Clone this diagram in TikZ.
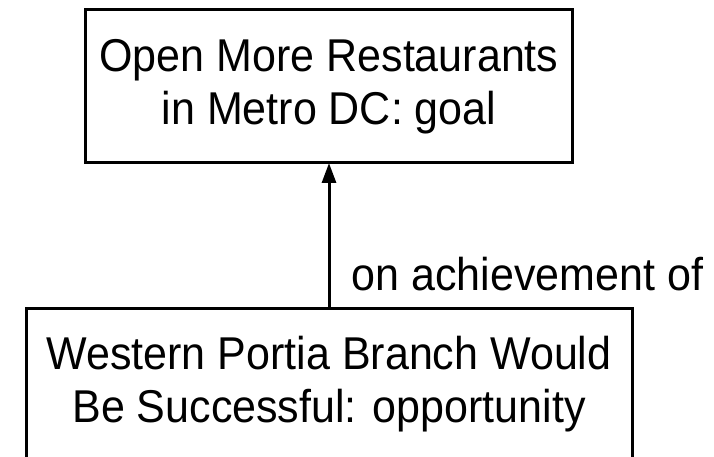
\documentclass[tikz,border=0pt]{standalone}
\usepackage{fontspec}
\setmainfont{Liberation Sans}[FakeStretch=0.935]
\usetikzlibrary{positioning,arrows.meta}
\tikzset{
  chart/.style={draw, line width=3pt, outer sep=0pt, inner sep=0pt, align=center,
                font=\fontsize{46}{53}\selectfont},
  link/.style={-{Triangle[length=20pt,width=14pt]}, line width=3pt},
}

\begin{document}
\begin{tikzpicture}[x=1pt,y=1pt]
  \useasboundingbox (0,0) rectangle (714,-457);
  \node[chart, minimum width=487pt, minimum height=153pt] (goal) at (329,-86.5) {Open More Restaurants\\in Metro DC: goal};
  \node[chart, minimum width=606pt, minimum height=153pt] (opportunity) [below=145pt of goal] {Western Portia Branch Would\\Be Successful: opportunity};
  \path[link]
        (opportunity) edge node[pos=0.12, anchor=base west, xshift=18pt, font=\fontsize{46}{53}\selectfont] {on achievement of} (goal)
  ;
\end{tikzpicture}
\end{document}
